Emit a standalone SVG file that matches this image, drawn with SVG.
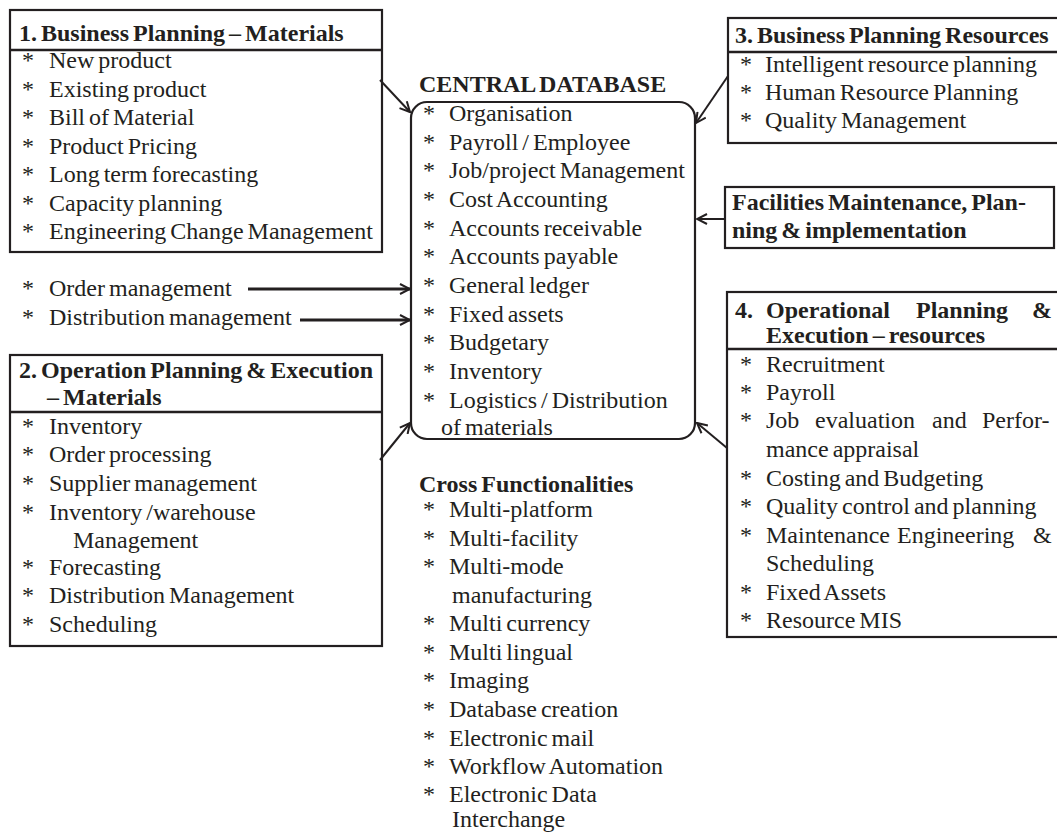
<svg xmlns="http://www.w3.org/2000/svg" width="1057" height="833" viewBox="0 0 1057 833">
<style>
text{font-family:"Liberation Serif","Times New Roman",serif;font-size:24px;word-spacing:-2px;fill:#231f20}
.b{font-weight:bold}
.box{fill:none;stroke:#231f20;stroke-width:2.2}
.div{stroke:#231f20;stroke-width:2.6}
.conn{stroke:#231f20;stroke-width:2;fill:none;marker-end:url(#ah)}
.thick{stroke-width:3}
</style>
<defs>
<marker id="ah" viewBox="0 0 12 12" refX="11" refY="6" markerWidth="12" markerHeight="12" markerUnits="userSpaceOnUse" orient="auto">
<path d="M1,1 L11,6 L1,11" fill="none" stroke="#231f20" stroke-width="2"/>
</marker>
</defs>
<rect width="1057" height="833" fill="#fff"/>

<g id="box1">
<rect class="box" x="10" y="10" width="372" height="242"/>
<line class="div" x1="10" y1="50" x2="382" y2="50"/>
<text class="b" x="19" y="41">1. Business Planning – Materials</text>
<text x="22" y="68">*</text><text x="49" y="68">New product</text>
<text x="22" y="97">*</text><text x="49" y="97">Existing product</text>
<text x="22" y="125">*</text><text x="49" y="125">Bill of Material</text>
<text x="22" y="154">*</text><text x="49" y="154">Product Pricing</text>
<text x="22" y="182">*</text><text x="49" y="182">Long term forecasting</text>
<text x="22" y="211">*</text><text x="49" y="211">Capacity planning</text>
<text x="22" y="239">*</text><text x="49" y="239">Engineering Change Management</text>
</g>

<g id="orders">
<text x="22" y="296">*</text><text x="49" y="296">Order management</text>
<text x="22" y="325">*</text><text x="49" y="325">Distribution management</text>
</g>

<g id="box2">
<rect class="box" x="10" y="355" width="372" height="291"/>
<line class="div" x1="10" y1="412" x2="382" y2="412"/>
<text class="b" x="19" y="378">2. Operation Planning &amp; Execution</text>
<text class="b" x="47" y="405">– Materials</text>
<text x="22" y="434">*</text><text x="49" y="434">Inventory</text>
<text x="22" y="462">*</text><text x="49" y="462">Order processing</text>
<text x="22" y="491">*</text><text x="49" y="491">Supplier management</text>
<text x="22" y="520">*</text><text x="49" y="520">Inventory /warehouse</text>
<text x="73" y="548">Management</text>
<text x="22" y="575">*</text><text x="49" y="575">Forecasting</text>
<text x="22" y="603">*</text><text x="49" y="603">Distribution Management</text>
<text x="22" y="632">*</text><text x="49" y="632">Scheduling</text>
</g>

<g id="central">
<text class="b" x="419" y="92">CENTRAL DATABASE</text>
<rect class="box" x="411" y="102" width="284" height="337" rx="16"/>
<text x="423" y="121">*</text><text x="449" y="121">Organisation</text>
<text x="423" y="150">*</text><text x="449" y="150">Payroll / Employee</text>
<text x="423" y="178">*</text><text x="449" y="178">Job/project Management</text>
<text x="423" y="207">*</text><text x="449" y="207">Cost Accounting</text>
<text x="423" y="236">*</text><text x="449" y="236">Accounts receivable</text>
<text x="423" y="264">*</text><text x="449" y="264">Accounts payable</text>
<text x="423" y="293">*</text><text x="449" y="293">General ledger</text>
<text x="423" y="322">*</text><text x="449" y="322">Fixed assets</text>
<text x="423" y="350">*</text><text x="449" y="350">Budgetary</text>
<text x="423" y="379">*</text><text x="449" y="379">Inventory</text>
<text x="423" y="408">*</text><text x="449" y="408">Logistics / Distribution</text>
<text x="441" y="435">of materials</text>
</g>

<g id="cross">
<text class="b" x="419" y="492">Cross Functionalities</text>
<text x="423" y="517">*</text><text x="449" y="517">Multi-platform</text>
<text x="423" y="546">*</text><text x="449" y="546">Multi-facility</text>
<text x="423" y="574">*</text><text x="449" y="574">Multi-mode</text>
<text x="452" y="603">manufacturing</text>
<text x="423" y="631">*</text><text x="449" y="631">Multi currency</text>
<text x="423" y="660">*</text><text x="449" y="660">Multi lingual</text>
<text x="423" y="688">*</text><text x="449" y="688">Imaging</text>
<text x="423" y="717">*</text><text x="449" y="717">Database creation</text>
<text x="423" y="746">*</text><text x="449" y="746">Electronic mail</text>
<text x="423" y="774">*</text><text x="449" y="774">Workflow Automation</text>
<text x="423" y="802">*</text><text x="449" y="802">Electronic Data</text>
<text x="452" y="827">Interchange</text>
</g>

<g id="box3">
<rect class="box" x="728" y="18" width="340" height="125"/>
<line class="div" x1="728" y1="52" x2="1057" y2="52"/>
<text class="b" x="735" y="43">3. Business Planning Resources</text>
<text x="740" y="72">*</text><text x="765" y="72">Intelligent resource planning</text>
<text x="740" y="100">*</text><text x="765" y="100">Human Resource Planning</text>
<text x="740" y="128">*</text><text x="765" y="128">Quality Management</text>
</g>

<g id="facilities">
<rect class="box" x="725" y="187" width="329" height="61"/>
<text class="b" x="732" y="210">Facilities Maintenance, Plan-</text>
<text class="b" x="732" y="238">ning &amp; implementation</text>
</g>

<g id="box4">
<rect class="box" x="727" y="292" width="340" height="345"/>
<line class="div" x1="727" y1="349" x2="1057" y2="349"/>
<text class="b" x="735" y="318">4.</text>
<text class="b" x="766" y="318">Operational</text>
<text class="b" x="916" y="318">Planning</text>
<text class="b" x="1032" y="318">&amp;</text>
<text class="b" x="766" y="343">Execution – resources</text>
<text x="740" y="372">*</text><text x="766" y="372">Recruitment</text>
<text x="740" y="400">*</text><text x="766" y="400">Payroll</text>
<text x="740" y="428">*</text><text x="766" y="428">Job</text><text x="815" y="428">evaluation</text><text x="932" y="428">and</text><text x="982" y="428">Perfor-</text>
<text x="766" y="457">mance appraisal</text>
<text x="740" y="486">*</text><text x="766" y="486">Costing and Budgeting</text>
<text x="740" y="514">*</text><text x="766" y="514">Quality control and planning</text>
<text x="740" y="543">*</text><text x="766" y="543">Maintenance</text><text x="897" y="543">Engineering</text><text x="1033" y="543">&amp;</text>
<text x="766" y="571">Scheduling</text>
<text x="740" y="600">*</text><text x="766" y="600">Fixed Assets</text>
<text x="740" y="628">*</text><text x="766" y="628">Resource MIS</text>
</g>

<g id="connectors">
<line class="conn" x1="380" y1="80" x2="410" y2="112"/>
<line class="conn" x1="380" y1="460" x2="410" y2="423"/>
<line class="conn thick" x1="248" y1="289" x2="410" y2="289"/>
<line class="conn thick" x1="300" y1="320" x2="410" y2="320"/>
<line class="conn" x1="728" y1="76" x2="696" y2="123"/>
<line class="conn" x1="725" y1="219" x2="697" y2="219"/>
<line class="conn" x1="727" y1="448" x2="697" y2="423"/>
</g>
</svg>
